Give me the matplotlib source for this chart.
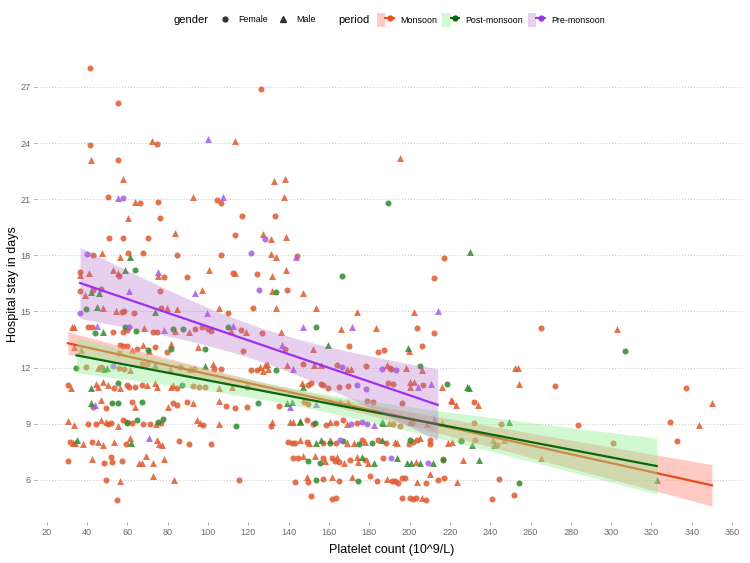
import numpy as np
import matplotlib
matplotlib.use("Agg")
import matplotlib.pyplot as plt
from matplotlib.lines import Line2D
from matplotlib.patches import Patch
from matplotlib.legend_handler import HandlerTuple

plt.rcParams["font.family"] = ["Liberation Sans", "DejaVu Sans"]

# ---- points: (platelet count, hospital stay) ----
mon_female = [
    (41.5, 28.0), (55.4, 26.16), (41.5, 23.9), (74.6, 23.95), (55.4, 23.1), (50.6, 21.1), (66.3, 20.8),
    (75.4, 20.87), (76.4, 20.0), (50.8, 18.9), (57.7, 18.9), (70.1, 18.9), (43.2, 18.0), (60.2, 18.1),
    (67.7, 18.1), (84.5, 18.0), (126.4, 26.9), (104.4, 20.95), (106.3, 20.8), (116.8, 20.1), (133.1, 20.1),
    (113.3, 19.1), (106.3, 18.0), (144.4, 17.98), (217.3, 17.87), (112.3, 17.07), (124.5, 17.0),
    (212.2, 16.8), (139.4, 16.14), (122.2, 15.16), (212.2, 13.87), (265.2, 14.13), (272.0, 11.03),
    (337.0, 10.92), (232.2, 10.14), (329.2, 9.09), (332.9, 8.05), (232.2, 9.05), (245.4, 9.0),
    (300.8, 7.95), (225.4, 8.1), (232.7, 8.1), (243.2, 7.86), (216.8, 7.1), (217.3, 6.11), (214.3, 5.97),
    (244.2, 6.06), (240.8, 4.95), (251.9, 5.17), (283.4, 8.93), (36.6, 17.12), (56.1, 16.9), (36.6, 16.1),
    (43.2, 16.14), (46.8, 16.2), (57.2, 14.95), (58.2, 15.04), (63.5, 14.9), (40.4, 14.14), (42.4, 14.14),
    (53.1, 13.91), (57.7, 13.88), (59.7, 14.0), (56.4, 13.18), (57.7, 13.15), (60.0, 13.15), (65.0, 13.0),
    (56.1, 12.8), (39.5, 12.04), (46.8, 12.04), (56.1, 12.0), (58.6, 11.93), (30.5, 11.06), (53.6, 10.88),
    (59.7, 11.06), (61.0, 10.94), (63.9, 10.97), (42.9, 9.9), (49.5, 9.85), (62.4, 10.17), (40.7, 8.96),
    (44.5, 8.97), (50.5, 9.0), (51.8, 9.05), (58.1, 9.19), (59.7, 9.1), (62.2, 9.05), (31.6, 8.03),
    (42.4, 8.03), (59.4, 7.91), (30.5, 7.0), (48.5, 6.91), (51.8, 7.23), (52.6, 6.96), (57.6, 7.0),
    (49.5, 5.98), (54.8, 4.91), (78.2, 16.85), (89.8, 16.85), (76.3, 16.09), (76.6, 15.2), (110.1, 14.89),
    (72.6, 13.91), (74.6, 13.88), (93.6, 14.04), (96.9, 14.18), (100.2, 14.04), (101.5, 13.97),
    (116.3, 14.0), (73.8, 13.11), (79.6, 12.84), (117.3, 12.9), (67.1, 12.2), (69.6, 12.2), (86.2, 12.04),
    (93.3, 11.92), (106.3, 11.93), (103.0, 11.9), (67.2, 11.06), (84.8, 10.88), (92.8, 11.0), (95.8, 10.94),
    (98.6, 10.94), (119.2, 10.97), (82.9, 10.08), (84.5, 9.99), (89.5, 10.17), (108.8, 9.94), (113.5, 9.81),
    (119.2, 9.87), (67.6, 8.97), (71.3, 8.97), (76.6, 9.05), (97.4, 8.92), (85.7, 8.07), (90.8, 7.89),
    (101.4, 7.89), (115.4, 5.98), (126.7, 13.86), (138.3, 12.99), (170.2, 13.15), (121.4, 11.86),
    (124.2, 11.86), (147.3, 12.18), (164.2, 12.13), (149.8, 11.06), (151.1, 11.15), (155.9, 11.1),
    (156.9, 11.06), (159.4, 10.88), (165.0, 10.94), (169.3, 11.0), (135.4, 9.94), (147.8, 10.17),
    (149.8, 10.03), (131.3, 8.87), (149.3, 9.19), (152.0, 8.97), (158.6, 8.92), (163.6, 9.05), (166.9, 9.19),
    (173.8, 9.01), (139.9, 8.03), (141.6, 7.94), (143.2, 7.98), (149.3, 8.03), (156.9, 7.94), (163.6, 7.94),
    (142.4, 7.17), (144.9, 7.14), (157.3, 7.14), (161.4, 7.14), (163.0, 7.01), (165.2, 6.96), (170.5, 7.08),
    (143.2, 5.89), (149.8, 5.89), (157.3, 6.02), (165.2, 5.95), (151.1, 5.12), (161.4, 4.95), (163.5, 5.0),
    (203.9, 14.09), (184.2, 12.84), (187.4, 12.93), (206.4, 13.15), (178.3, 12.08), (190.3, 12.0),
    (190.8, 11.9), (189.2, 11.15), (192.0, 11.1), (206.9, 11.06), (179.1, 10.22), (182.1, 10.17),
    (196.1, 10.12), (192.0, 8.97), (195.3, 8.87), (201.1, 9.01), (176.3, 8.12), (184.6, 8.15), (188.4, 7.98),
    (199.9, 7.89), (201.9, 8.03), (203.6, 8.12), (210.2, 8.12), (210.2, 7.9), (177.9, 7.08), (186.7, 7.14),
    (180.4, 6.19), (183.7, 5.95), (191.2, 5.95), (192.8, 5.95), (194.5, 5.8), (196.1, 6.07), (197.8, 6.07),
    (208.2, 5.85), (196.1, 5.03), (200.3, 5.03), (201.9, 4.95), (203.2, 5.0), (208.2, 4.91),
]
mon_male = [
    (72.5, 24.1), (41.9, 23.1), (57.7, 22.1), (63.7, 20.86), (92.8, 21.1), (60.5, 20.0), (83.5, 19.2),
    (47.5, 18.1), (56.4, 17.9), (113.3, 24.1), (195.3, 23.2), (132.8, 21.95), (138.4, 22.08), (137.6, 21.13),
    (127.5, 19.12), (131.5, 18.87), (138.6, 19.0), (131.1, 18.07), (133.8, 17.9), (100.5, 17.2),
    (113.3, 17.07), (138.6, 17.2), (131.6, 16.9), (96.9, 16.14), (131.6, 16.1), (147.3, 16.0), (105.5, 15.2),
    (133.8, 15.16), (153.6, 15.16), (303.1, 14.06), (252.3, 12.0), (254.0, 12.0), (254.2, 11.14),
    (349.9, 10.09), (216.0, 10.98), (220.4, 10.27), (221.3, 10.2), (223.1, 10.0), (233.8, 10.0),
    (343.8, 8.93), (219.3, 7.98), (221.3, 8.04), (241.3, 8.1), (247.1, 8.1), (265.2, 7.15), (226.4, 7.06),
    (223.4, 5.9), (36.6, 16.96), (41.0, 17.07), (52.8, 17.2), (55.3, 17.03), (39.1, 15.87), (47.8, 15.16),
    (54.4, 15.03), (32.8, 14.14), (33.8, 14.14), (33.8, 13.07), (62.2, 12.93), (36.9, 12.93), (45.7, 12.0),
    (61.4, 11.86), (32.0, 10.88), (44.3, 11.1), (45.7, 10.97), (47.8, 11.24), (50.6, 11.06), (56.4, 10.88),
    (46.8, 10.26), (63.9, 9.87), (30.8, 9.15), (33.8, 8.92), (46.8, 9.19), (49.5, 9.1), (55.3, 8.89),
    (34.1, 7.94), (32.9, 7.94), (37.9, 7.91), (45.7, 8.0), (47.8, 7.85), (53.6, 8.0), (61.4, 8.21),
    (42.4, 7.1), (66.0, 6.87), (56.4, 5.93), (75.4, 16.89), (79.9, 15.2), (84.8, 15.12), (68.3, 14.09),
    (83.7, 13.95), (90.6, 13.91), (111.3, 13.97), (118.9, 13.91), (67.6, 13.2), (70.8, 12.9), (81.5, 13.25),
    (94.9, 13.11), (81.2, 11.9), (91.1, 11.9), (102.7, 12.17), (69.6, 11.06), (74.6, 10.97), (73.8, 11.15),
    (82.9, 11.06), (81.5, 10.94), (105.7, 10.88), (111.8, 10.97), (80.4, 9.9), (92.8, 10.08), (105.5, 10.22),
    (74.3, 8.97), (94.4, 9.19), (96.1, 9.05), (105.7, 8.97), (74.9, 8.15), (75.8, 7.91), (77.4, 7.85),
    (69.3, 7.26), (72.9, 6.87), (67.2, 6.91), (78.4, 7.1), (72.6, 6.19), (83.4, 5.98), (174.1, 14.98),
    (166.0, 14.04), (136.3, 13.91), (152.3, 12.97), (125.8, 12.04), (128.3, 12.13), (130.0, 11.9),
    (129.2, 12.18), (127.5, 11.83), (139.4, 12.13), (152.6, 12.13), (156.1, 12.13), (168.8, 11.9),
    (171.0, 11.93), (146.5, 11.15), (169.3, 10.17), (131.6, 9.1), (140.7, 9.1), (142.4, 9.1), (145.7, 9.1),
    (160.6, 9.1), (168.8, 8.97), (145.7, 8.12), (150.3, 7.94), (160.6, 8.12), (168.8, 7.98), (172.5, 7.94),
    (147.3, 7.26), (153.1, 7.26), (158.1, 7.0), (164.2, 7.23), (167.5, 6.91), (173.8, 7.23), (174.6, 6.96),
    (149.0, 6.16), (161.4, 6.16), (171.3, 6.16), (202.4, 14.98), (183.2, 14.09), (199.8, 12.9),
    (188.7, 12.13), (198.1, 11.99), (206.4, 11.86), (200.3, 11.24), (202.4, 11.24), (200.3, 10.97),
    (190.0, 9.05), (200.3, 9.1), (208.5, 8.97), (216.0, 9.01), (177.9, 8.03), (192.8, 8.03), (194.0, 7.94),
    (205.2, 8.21), (179.6, 6.91), (203.2, 6.96), (188.7, 6.02), (203.6, 5.89), (210.2, 6.3), (206.0, 5.03),
]
post_female = [
    (189.3, 20.8), (166.4, 16.9), (133.8, 16.05), (306.9, 12.9), (218.4, 11.12), (225.4, 8.05),
    (254.2, 5.83), (39.4, 15.12), (44.0, 13.82), (58.9, 14.14), (64.4, 13.95), (34.6, 11.99), (55.6, 11.15),
    (52.6, 10.08), (55.6, 10.08), (59.7, 9.01), (64.7, 9.19), (63.8, 17.2), (82.5, 14.04), (87.8, 14.07),
    (110.1, 14.14), (70.5, 12.93), (81.9, 12.97), (98.6, 13.0), (87.0, 11.06), (67.2, 10.17), (75.4, 9.1),
    (77.9, 9.22), (114.0, 8.87), (153.5, 14.18), (133.8, 11.86), (125.0, 10.12), (153.1, 9.01),
    (160.6, 7.98), (166.9, 8.08), (175.1, 7.91), (149.8, 7.01), (155.6, 6.87), (153.5, 5.98), (174.6, 5.95),
    (205.2, 12.08), (181.2, 7.94), (200.3, 8.15), (216.5, 7.08),
]
post_male = [
    (61.4, 17.9), (230.0, 18.16), (249.4, 9.1), (228.4, 10.98), (229.4, 10.89), (242.1, 7.86), (230.8, 7.86),
    (322.6, 5.99), (211.5, 6.9), (234.3, 7.06), (58.9, 17.2), (42.0, 16.05), (46.2, 16.0), (44.8, 15.25),
    (47.8, 13.91), (48.5, 11.9), (50.1, 12.0), (41.9, 10.88), (41.9, 10.11), (34.9, 8.12), (61.9, 7.94),
    (73.8, 14.98), (73.8, 12.13), (98.6, 12.08), (159.7, 13.2), (147.3, 10.97), (139.4, 10.12),
    (141.6, 10.17), (165.5, 10.17), (145.7, 9.15), (153.6, 7.94), (155.9, 8.12), (199.4, 13.02),
    (186.2, 9.1), (187.0, 9.01), (186.2, 8.12), (176.3, 7.23), (182.6, 6.9), (193.6, 7.17), (198.6, 6.91),
    (200.6, 6.91), (205.2, 6.91),
]
pre_female = [
    (58.1, 21.08), (39.9, 18.05), (128.5, 18.85), (121.6, 18.1), (125.5, 16.14), (36.6, 14.9), (61.0, 14.14),
    (52.8, 12.08), (166.4, 12.04), (174.1, 11.06), (165.5, 8.12), (171.0, 8.97), (186.2, 11.92),
    (193.2, 11.86), (178.4, 10.83), (176.3, 9.1), (178.8, 8.97), (190.8, 7.17), (209.4, 6.87),
]
pre_male = [
    (100.2, 24.2), (55.6, 21.04), (107.7, 21.1), (143.5, 17.9), (214.3, 15.02), (210.7, 11.1), (61.0, 16.09),
    (44.8, 14.2), (44.0, 9.99), (75.4, 17.12), (93.6, 15.96), (99.4, 14.89), (78.4, 14.0), (112.6, 14.2),
    (70.9, 8.21), (147.0, 14.18), (171.3, 14.18), (136.9, 13.2), (142.4, 11.93), (140.7, 9.9), (153.6, 10.03),
    (204.4, 10.97), (182.6, 8.92), (212.2, 9.22),
]

periods = ["Monsoon", "Post-monsoon", "Pre-monsoon"]
# linear fits: x range, fitted y at both ends, CI shape
fit_x_start = [30.5, 34.9, 36.6]
fit_x_end = [350.0, 322.6, 214.0]
fit_y_start = [13.30, 12.65, 16.52]
fit_y_end = [5.70, 6.73, 10.00]
ci_min = [0.20, 0.45, 0.90]
ci_slope = [0.0052, 0.0078, 0.019]
ci_centre = [140, 140, 125]

point_cols = ["#E05A2E", "#2E8B2E", "#A65BE8"]
line_cols = ["#EA4B1C", "#0C660C", "#9B30F0"]
band_cols = ["#FF8A78", "#8FEE8F", "#B062C8"]
band_alpha = [0.45, 0.40, 0.30]

x_ticks = list(range(20, 361, 20))
y_ticks = [6, 9, 12, 15, 18, 21, 24, 27]

groups = [(mon_female, mon_male), (post_female, post_male), (pre_female, pre_male)]

fig = plt.figure(figsize=(7.5, 5.63), dpi=100)
ax = fig.add_axes([0.0487, 0.0732, 0.9463, 0.8437])

for i, (fem, mal) in enumerate(groups):
    fx, fy = zip(*fem)
    mx, my = zip(*mal)
    ax.scatter(fx, fy, s=19, marker="o", color=point_cols[i], alpha=0.85, linewidths=0, zorder=2)
    ax.scatter(mx, my, s=25, marker="^", color=point_cols[i], alpha=0.85, linewidths=0, zorder=2)

for i in range(3):
    xs = np.linspace(fit_x_start[i], fit_x_end[i], 100)
    ys = fit_y_start[i] + (fit_y_end[i] - fit_y_start[i]) * (xs - fit_x_start[i]) / (fit_x_end[i] - fit_x_start[i])
    hw = np.sqrt(ci_min[i] ** 2 + (ci_slope[i] * (xs - ci_centre[i])) ** 2)
    ax.fill_between(xs, ys - hw, ys + hw, color=band_cols[i], alpha=band_alpha[i], linewidth=0, zorder=3 + 2 * i)
    ax.plot(xs, ys, color=line_cols[i], lw=1.6, zorder=4 + 2 * i)

ax.set_xlim(15, 367)
ax.set_ylim(3.75, 29.15)
ax.set_xticks(x_ticks)
ax.set_yticks(y_ticks)
for s in ax.spines.values():
    s.set_visible(False)
ax.grid(axis="y", linestyle=(0, (1, 2)), color="#C8C8C8", linewidth=0.7)
ax.set_axisbelow(True)
ax.tick_params(axis="both", colors="#9A9A9A", labelcolor="#6A6A6A", labelsize=6.6, length=2.5, width=0.6, pad=2)
ax.set_xlabel("Platelet count (10^9/L)", fontsize=9, labelpad=5)
ax.set_ylabel("Hospital stay in days", fontsize=9, labelpad=1)

# legends along the top
leg_y = 1 - 20 / 563
fig.text(173 / 750, leg_y, "gender", fontsize=8, va="center", ha="left")
g_handles = [Line2D([], [], ls="", marker="o", color="#333333", markersize=3.5),
             Line2D([], [], ls="", marker="^", color="#333333", markersize=4.2)]
fig.legend(g_handles, ["Female", "Male"], loc="center left", bbox_to_anchor=(219.6 / 750, leg_y),
           ncol=2, frameon=False, fontsize=6.4, handlelength=1.2, handletextpad=0.86,
           columnspacing=1.13, borderpad=0, borderaxespad=0)

fig.text(338 / 750, leg_y, "period", fontsize=8, va="center", ha="left")
p_handles = []
for i in range(3):
    bg = Patch(facecolor=band_cols[i], alpha=band_alpha[i], edgecolor="none")
    ln = Line2D([], [], color=line_cols[i], lw=1.4, marker="o", markersize=3.5)
    p_handles.append((bg, ln))
fig.legend(p_handles, periods, loc="center left", bbox_to_anchor=(377 / 750, leg_y),
           ncol=3, frameon=False, fontsize=6.4, handlelength=1.91, handleheight=1.91,
           handletextpad=0.67, columnspacing=0.58, borderpad=0, borderaxespad=0,
           handler_map={tuple: HandlerTuple(ndivide=None, pad=0)})

fig.savefig("out.png", dpi=100)
